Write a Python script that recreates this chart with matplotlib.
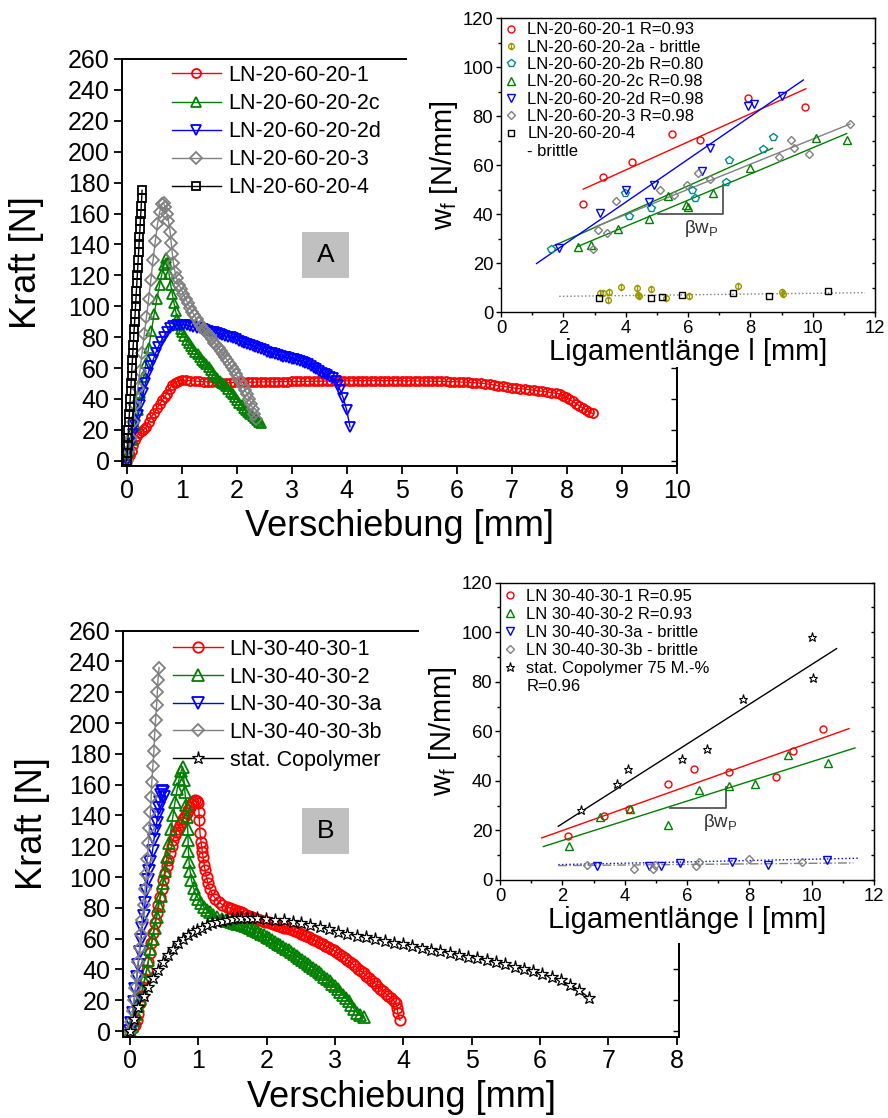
import numpy as np
import matplotlib
matplotlib.use('Agg')
import matplotlib.pyplot as plt
from matplotlib.patches import Rectangle
from matplotlib.path import Path
from matplotlib.lines import Line2D
from matplotlib.ticker import MultipleLocator

plt.rcParams['font.family'] = ['Liberation Sans', 'DejaVu Sans']
plt.rcParams['mathtext.fontset'] = 'custom'
plt.rcParams['mathtext.rm'] = 'Liberation Sans'
plt.rcParams['mathtext.it'] = 'Liberation Sans:italic'
plt.rcParams['mathtext.default'] = 'regular'

# ------------------------------------------------------------------ data
# Panel A: force-displacement curves (x = Verschiebung [mm], y = Kraft [N])
A_LABELS = ['LN-20-60-20-1', 'LN-20-60-20-2c', 'LN-20-60-20-2d', 'LN-20-60-20-3', 'LN-20-60-20-4']

A_1 = [(0, 0), (0.03, 2), (0.06, 4), (0.09, 6.5), (0.12, 10), (0.15, 13.5), (0.18, 16), (0.22, 18),
       (0.27, 19), (0.32, 20.5), (0.36, 22), (0.40, 25), (0.45, 28.5), (0.50, 31), (0.55, 34),
       (0.60, 36.5), (0.64, 39), (0.69, 41.5), (0.73, 43.5), (0.78, 46.5), (0.82, 48.8), (0.87, 50.5),
       (0.91, 51.2), (0.96, 51.8), (1.00, 52),
       (1.08, 52), (1.16, 51.8), (1.24, 51.6), (1.32, 51.3), (1.40, 51.1), (1.48, 51.0), (1.56, 50.8),
       (1.64, 50.7), (1.72, 50.6), (1.80, 50.6), (1.88, 50.6), (1.96, 50.7), (2.04, 50.7), (2.12, 50.8),
       (2.20, 50.8), (2.28, 50.9), (2.36, 50.9), (2.44, 51.0), (2.52, 51.0), (2.60, 51.0), (2.68, 51.1),
       (2.76, 51.1), (2.84, 51.2), (2.92, 51.2), (3.00, 51.3), (3.08, 51.3), (3.16, 51.3), (3.24, 51.4),
       (3.32, 51.4), (3.40, 51.5), (3.48, 51.5), (3.56, 51.5), (3.64, 51.6), (3.72, 51.6), (3.80, 51.6),
       (3.88, 51.7), (3.96, 51.7), (4.04, 51.7), (4.12, 51.7), (4.20, 51.8), (4.28, 51.8), (4.36, 51.8),
       (4.44, 51.8), (4.52, 51.8), (4.60, 51.8), (4.68, 51.8), (4.76, 51.8), (4.84, 51.8), (4.92, 51.8),
       (5.00, 51.7), (5.08, 51.7), (5.16, 51.7), (5.24, 51.6), (5.32, 51.6), (5.40, 51.6), (5.48, 51.5),
       (5.56, 51.5), (5.64, 51.4), (5.72, 51.4), (5.80, 51.3), (5.88, 51.2), (5.96, 51.1), (6.04, 51.0),
       (6.12, 50.9), (6.20, 50.8), (6.28, 50.6), (6.36, 50.4),
       (6.44, 50.2), (6.52, 49.9), (6.60, 49.5), (6.68, 49.0), (6.76, 48.5), (6.84, 48.1), (6.92, 47.7),
       (7.00, 47.3), (7.08, 46.9), (7.16, 46.6), (7.24, 46.3), (7.32, 46.0), (7.40, 45.7), (7.48, 45.3),
       (7.56, 44.9), (7.64, 44.5), (7.72, 44.1), (7.80, 43.7), (7.87, 43.2), (7.93, 42.2), (7.99, 41.0),
       (8.05, 39.7), (8.11, 38.4), (8.17, 37.0), (8.23, 35.6), (8.29, 34.3), (8.35, 33.0), (8.41, 31.8),
       (8.47, 30.6)]

A_2c = [(0, 0), (0.05, 6), (0.10, 14), (0.15, 23), (0.20, 33), (0.25, 44), (0.30, 54), (0.35, 63),
        (0.40, 73), (0.45, 84), (0.50, 95), (0.55, 105), (0.60, 114), (0.64, 121), (0.68, 127),
        (0.71, 131), (0.74, 128), (0.77, 121), (0.80, 114), (0.83, 108), (0.86, 102), (0.89, 97),
        (0.92, 92), (0.95, 88), (0.98, 85.5), (1.01, 83), (1.05, 80.5), (1.09, 78), (1.13, 76),
        (1.17, 74), (1.21, 72), (1.25, 70.5), (1.29, 69), (1.33, 67.3), (1.37, 65.5), (1.41, 64),
        (1.45, 62.3), (1.49, 60.6), (1.53, 58.5), (1.57, 56.6), (1.61, 55), (1.65, 53.3), (1.69, 51.6),
        (1.73, 50), (1.77, 49.5), (1.81, 48.2), (1.85, 46.5), (1.89, 44.8), (1.93, 43), (1.97, 41.3),
        (2.01, 39.5), (2.05, 37.6), (2.09, 36), (2.13, 34.4), (2.17, 32.8), (2.21, 31.3), (2.25, 30),
        (2.29, 28.7), (2.33, 27.5), (2.37, 26.3), (2.41, 25.2), (2.45, 24.2)]

A_2d = [(0, 0), (0.04, 5), (0.08, 11), (0.12, 17), (0.16, 23), (0.21, 29.6), (0.25, 36), (0.30, 43.6),
        (0.34, 50), (0.39, 56.6), (0.43, 61), (0.48, 65.2), (0.53, 70), (0.575, 73.8), (0.62, 77),
        (0.67, 80.3), (0.73, 83), (0.79, 85.7), (0.85, 87), (0.91, 87.8), (0.97, 88), (1.03, 88),
        (1.09, 87.8), (1.15, 87.3), (1.21, 86.7), (1.27, 86.2), (1.33, 85.7), (1.38, 85.2), (1.43, 84.6),
        (1.48, 84.1), (1.53, 83.6), (1.58, 83.1), (1.64, 82.5), (1.69, 82), (1.74, 81.4), (1.79, 80.9),
        (1.84, 80.3), (1.89, 79.8), (1.94, 79.2), (1.99, 78.5), (2.04, 77.8), (2.09, 77.1), (2.14, 76.4),
        (2.19, 75.6), (2.24, 74.9), (2.29, 74.2), (2.34, 73.5), (2.39, 72.8), (2.44, 72.1), (2.49, 71.4),
        (2.55, 70.6), (2.60, 70), (2.65, 69.5), (2.70, 68.9), (2.75, 68.4), (2.80, 67.8), (2.85, 67.3),
        (2.90, 66.9), (2.95, 66.5), (3.00, 66.1), (3.05, 65.6), (3.10, 65.2), (3.15, 64.7), (3.20, 64),
        (3.25, 63.2), (3.30, 62.4), (3.35, 61.4), (3.40, 60.3), (3.45, 59.2), (3.50, 58), (3.55, 57),
        (3.60, 56.1), (3.65, 55.2), (3.70, 54.4), (3.75, 53.3), (3.80, 51.5), (3.84, 48.8), (3.88, 45.8),
        (3.94, 40.4), (4.00, 32.8), (4.06, 22)]

A_3 = [(0, 0), (0.04, 7), (0.08, 15), (0.12, 25), (0.16, 36), (0.20, 47), (0.24, 58), (0.28, 70),
       (0.32, 82), (0.36, 93), (0.40, 105), (0.44, 117), (0.48, 130), (0.52, 142), (0.56, 153),
       (0.60, 161), (0.64, 166), (0.67, 167), (0.70, 164), (0.73, 160), (0.76, 155), (0.79, 148),
       (0.81, 141), (0.83, 134), (0.85, 128), (0.88, 122), (0.91, 118), (0.95, 114), (0.99, 111),
       (1.03, 108), (1.07, 105), (1.11, 102), (1.15, 99), (1.19, 96.5), (1.23, 94), (1.27, 91.5),
       (1.31, 89), (1.35, 87.5), (1.39, 85.5), (1.43, 84), (1.47, 82), (1.51, 80.5), (1.55, 78.5),
       (1.59, 76.5), (1.63, 75), (1.67, 73), (1.71, 71), (1.75, 69), (1.79, 67), (1.83, 65),
       (1.87, 62.5), (1.91, 60.5), (1.95, 58.5), (1.99, 56), (2.03, 53.5), (2.07, 51), (2.11, 48.5),
       (2.15, 46), (2.19, 43), (2.23, 40), (2.26, 37), (2.29, 33.5), (2.32, 30), (2.35, 27)]

A_4 = [(0, 0), (0.01, 5), (0.02, 10), (0.025, 15), (0.033, 20), (0.04, 25), (0.048, 30), (0.056, 35),
       (0.064, 40), (0.072, 45), (0.08, 50), (0.088, 55), (0.096, 60), (0.104, 65), (0.112, 70),
       (0.12, 75), (0.128, 80), (0.136, 85), (0.145, 90), (0.153, 95), (0.161, 100), (0.169, 105),
       (0.177, 110), (0.185, 115), (0.193, 120), (0.201, 125), (0.209, 130), (0.217, 135), (0.225, 140),
       (0.233, 145), (0.241, 150), (0.249, 155), (0.257, 160), (0.265, 165), (0.273, 170), (0.28, 175)]

# Panel B: force-displacement curves
B_LABELS = ['LN-30-40-30-1', 'LN-30-40-30-2', 'LN-30-40-30-3a', 'LN-30-40-30-3b', 'stat. Copolymer']

B_1 = [(0, 0), (0.04, 2), (0.07, 4), (0.10, 7), (0.12, 11), (0.146, 18), (0.17, 23), (0.195, 28.8),
       (0.22, 34), (0.244, 39.6), (0.27, 45), (0.29, 50.4), (0.315, 57), (0.34, 63.4), (0.365, 70),
       (0.39, 76.4), (0.415, 82), (0.44, 87.2), (0.465, 92.5), (0.49, 98), (0.515, 102.5), (0.54, 107),
       (0.56, 111), (0.585, 115.5), (0.61, 120), (0.63, 124), (0.655, 127), (0.68, 129.5), (0.705, 131.5),
       (0.73, 133.5), (0.755, 135.5), (0.78, 137.5), (0.805, 139.5), (0.83, 141.5), (0.855, 143.5),
       (0.88, 145.6), (0.90, 147.5), (0.925, 149), (0.95, 150), (0.98, 149.5), (1.0, 147.8), (1.01, 142),
       (1.015, 137), (1.025, 128.4), (1.04, 123), (1.05, 119.7), (1.06, 116), (1.07, 113), (1.085, 108),
       (1.10, 104.5), (1.12, 100), (1.14, 96), (1.17, 92), (1.21, 88.5), (1.25, 86), (1.30, 84),
       (1.35, 82), (1.42, 80.5), (1.46, 80), (1.50, 79.3), (1.54, 78.6), (1.58, 77.9), (1.62, 77.2),
       (1.66, 76.4), (1.70, 75.6), (1.74, 74.8), (1.78, 74), (1.82, 73.3), (1.86, 72.6), (1.90, 72),
       (1.94, 71.5), (1.98, 71), (2.02, 70.6), (2.06, 70.2), (2.10, 69.6), (2.14, 69), (2.18, 68.4),
       (2.22, 67.8), (2.26, 67.2), (2.30, 66.6), (2.34, 66), (2.38, 65.4), (2.42, 64.7), (2.46, 64),
       (2.50, 63.2), (2.54, 62.4), (2.58, 61.6), (2.62, 60.8), (2.66, 60), (2.70, 59.1), (2.74, 58.2),
       (2.78, 57.3), (2.82, 56.4), (2.86, 55.5), (2.90, 54.5), (2.94, 53.5), (2.98, 52.4), (3.02, 51.3),
       (3.06, 50.1), (3.10, 48.9), (3.14, 47.7), (3.18, 46.3), (3.22, 44.9), (3.26, 43.5), (3.30, 42),
       (3.34, 40.5), (3.38, 39), (3.42, 37.5), (3.46, 35.9), (3.50, 34.3), (3.54, 32.7), (3.58, 31),
       (3.62, 29.3), (3.66, 27.6), (3.70, 25.9), (3.74, 24.3), (3.78, 22.8), (3.82, 21.3), (3.86, 19.7),
       (3.89, 18), (3.91, 15), (3.92, 11.5), (3.95, 7.1)]

B_2 = [(0, 0), (0.03, 3), (0.06, 7), (0.09, 11), (0.12, 16), (0.15, 21), (0.18, 27), (0.21, 33),
       (0.24, 39), (0.27, 46), (0.30, 53), (0.33, 60), (0.36, 67), (0.39, 74), (0.42, 81), (0.45, 88),
       (0.48, 96), (0.51, 104), (0.54, 113), (0.57, 122), (0.60, 131), (0.63, 140), (0.66, 149),
       (0.69, 157), (0.72, 164), (0.75, 169), (0.77, 171.5), (0.79, 163), (0.805, 155), (0.82, 147),
       (0.835, 139), (0.845, 131), (0.85, 124), (0.855, 117), (0.865, 110), (0.88, 104), (0.90, 98),
       (0.93, 93), (0.96, 89), (1.00, 86), (1.04, 83), (1.08, 80.5), (1.12, 78.5), (1.17, 77),
       (1.22, 75.5), (1.28, 74), (1.34, 73), (1.40, 72), (1.44, 71.5), (1.48, 71), (1.52, 70.4),
       (1.56, 69.8), (1.60, 69.2), (1.64, 68.6), (1.68, 68), (1.72, 67.3), (1.76, 66.7), (1.80, 65.8),
       (1.84, 64.9), (1.88, 64), (1.92, 63), (1.96, 62.1), (2.00, 61.2), (2.04, 60.1), (2.08, 59),
       (2.12, 57.9), (2.16, 56.8), (2.20, 55.8), (2.24, 54.7), (2.28, 53.5), (2.32, 52.3), (2.36, 51.1),
       (2.40, 49.9), (2.44, 48.6), (2.48, 47.4), (2.52, 46.2), (2.56, 45), (2.60, 43.7), (2.64, 42.4),
       (2.68, 41.1), (2.72, 39.8), (2.76, 38.4), (2.80, 36.9), (2.84, 35.4), (2.88, 33.8), (2.92, 32.2),
       (2.96, 30.6), (3.00, 29), (3.04, 27.3), (3.08, 25.5), (3.12, 23.6), (3.16, 21.6), (3.20, 19.2),
       (3.24, 16.8), (3.28, 14.3), (3.32, 12), (3.37, 10.2), (3.42, 9.3)]

B_3a = [(0, 0), (0.02, 5), (0.04, 12), (0.06, 19), (0.08, 27), (0.10, 35), (0.12, 43), (0.14, 51),
        (0.16, 59), (0.18, 67), (0.20, 75), (0.22, 83), (0.24, 91), (0.26, 98), (0.28, 104), (0.30, 110),
        (0.33, 117), (0.35, 124), (0.37, 130), (0.39, 135), (0.41, 140), (0.43, 145), (0.44, 149),
        (0.45, 153), (0.47, 156), (0.49, 155), (0.50, 152)]

B_3b = [(0, 0), (0.02, 6), (0.04, 13), (0.06, 20), (0.08, 28), (0.10, 36), (0.12, 45), (0.14, 54),
        (0.16, 63), (0.18, 72), (0.20, 82), (0.22, 92), (0.24, 102), (0.255, 112), (0.27, 122),
        (0.285, 132), (0.30, 142), (0.31, 152), (0.32, 162), (0.335, 172), (0.35, 182), (0.36, 192),
        (0.375, 202), (0.39, 212), (0.40, 220), (0.41, 228), (0.425, 236)]

B_COP = [(0, 0), (0.06, 8), (0.12, 15.8), (0.20, 23), (0.27, 28.8), (0.34, 34.5), (0.41, 39.6),
         (0.48, 45), (0.56, 49.4), (0.635, 53.5), (0.71, 57), (0.78, 60), (0.85, 62.3), (0.92, 64.3),
         (0.98, 65.6), (1.05, 67.2), (1.12, 68.8), (1.20, 70), (1.27, 71), (1.35, 71.6), (1.42, 72),
         (1.49, 72.6), (1.56, 73.2), (1.63, 73.4), (1.71, 73.6), (1.78, 73.5), (1.86, 73.2), (1.99, 72.8),
         (2.12, 72.4), (2.25, 71.8), (2.38, 71), (2.51, 70.2), (2.64, 68.8), (2.78, 67.4), (2.91, 66.2),
         (3.05, 64.5), (3.18, 63.3), (3.32, 62), (3.45, 60.8), (3.59, 59.6), (3.73, 58.4), (3.86, 57.3),
         (4.00, 56.2), (4.13, 55.1), (4.27, 54), (4.41, 52.9), (4.54, 51.8), (4.68, 50.6), (4.81, 49.5),
         (4.95, 48.3), (5.08, 47.1), (5.22, 45.8), (5.36, 44.5), (5.49, 43.2), (5.63, 41.8), (5.76, 40.3),
         (5.90, 38.7), (6.03, 37), (6.17, 35.1), (6.30, 32.9), (6.44, 30.1), (6.57, 26.6), (6.72, 21.5)]

# Inset A: w_f vs ligament length
IA_1_x = [2.64, 3.28, 4.19, 5.48, 6.39, 7.94, 9.75]
IA_1_y = [44.0, 55.2, 61.1, 72.7, 70.2, 87.5, 83.8]
IA_2a_x = [3.18, 3.28, 3.42, 3.48, 3.85, 4.35, 4.41, 4.44, 4.80, 5.28, 6.04, 7.61, 9.00, 9.06]
IA_2a_y = [7.8, 7.8, 5.0, 8.2, 10.2, 10.0, 6.8, 6.4, 9.5, 5.7, 6.4, 10.6, 8.2, 7.5]
IA_2b_x = [1.60, 3.97, 4.12, 4.80, 6.14, 6.22, 7.22, 7.30, 8.42, 8.72]
IA_2b_y = [25.9, 48.7, 39.1, 42.3, 49.8, 46.4, 53.2, 62.3, 66.8, 71.3]
IA_2c_x = [2.48, 2.88, 3.74, 4.76, 5.37, 5.94, 6.01, 6.79, 7.99, 10.11, 11.09]
IA_2c_y = [26.6, 27.5, 34.1, 38.2, 47.3, 43.9, 42.9, 48.7, 59.0, 70.9, 70.2]
IA_2d_x = [1.87, 3.18, 4.01, 4.76, 4.91, 6.44, 6.71, 7.94, 8.12, 9.00]
IA_2d_y = [26.2, 40.5, 50.0, 45.0, 51.8, 57.7, 67.1, 84.1, 84.8, 88.2]
IA_3_x = [2.96, 3.10, 3.41, 3.68, 5.10, 5.56, 5.96, 6.31, 6.71, 8.92, 9.30, 9.41, 9.89, 11.20]
IA_3_y = [25.9, 33.4, 32.4, 45.3, 49.8, 47.6, 51.8, 56.9, 54.3, 63.4, 70.2, 67.2, 64.5, 77.0]
IA_4_x = [3.14, 4.81, 5.16, 5.80, 7.45, 8.61, 10.50]
IA_4_y = [5.7, 5.7, 6.1, 6.8, 7.8, 6.4, 8.5]
IA_LABELS = ['LN-20-60-20-1 R=0.93', 'LN-20-60-20-2a - brittle', 'LN-20-60-20-2b R=0.80',
             'LN-20-60-20-2c R=0.98', 'LN-20-60-20-2d R=0.98', 'LN-20-60-20-3 R=0.98',
             'LN-20-60-20-4', '- brittle']
# fitted lines (x0, x1), (y0, y1)
IA_FIT_1 = ((2.64, 9.78), (50.2, 91.2))
IA_FIT_2b = ((1.68, 8.71), (27.0, 66.9))
IA_FIT_2c = ((2.43, 11.09), (26.6, 72.9))
IA_FIT_2d = ((1.14, 9.70), (19.8, 94.8))
IA_FIT_3 = ((3.02, 11.20), (34.8, 76.8))
IA_FIT_BR = ((1.87, 11.68), (6.4, 7.9))

# Inset B
IB_1_x = [2.17, 3.35, 4.15, 5.38, 6.22, 7.36, 8.84, 9.39, 10.37]
IB_1_y = [17.9, 25.7, 28.5, 38.6, 44.9, 43.5, 41.5, 52.0, 61.1]
IB_2_x = [2.22, 3.21, 4.17, 5.38, 6.40, 7.36, 8.18, 9.25, 10.53]
IB_2_y = [13.9, 25.3, 28.7, 22.0, 36.4, 37.9, 38.6, 50.3, 47.3]
IB_3a_x = [3.12, 4.79, 5.16, 5.78, 7.43, 8.61, 10.48]
IB_3a_y = [5.5, 5.5, 5.5, 6.7, 7.4, 6.2, 8.2]
IB_3b_x = [2.78, 4.31, 4.90, 4.97, 6.29, 6.40, 8.00, 9.68]
IB_3b_y = [6.2, 4.4, 4.4, 6.2, 5.8, 7.1, 8.5, 7.4]
IB_COP_x = [2.60, 3.74, 4.10, 5.83, 6.63, 7.79, 10.02, 10.03]
IB_COP_y = [28.3, 38.8, 44.9, 48.9, 52.7, 73.2, 97.9, 81.6]
IB_LABELS = ['LN 30-40-30-1 R=0.95', 'LN 30-40-30-2 R=0.93', 'LN 30-40-30-3a - brittle',
             'LN 30-40-30-3b - brittle', 'stat. Copolymer 75 M.-%', 'R=0.96']
IB_FIT_1 = ((1.34, 11.20), (17.0, 61.1))
IB_FIT_2 = ((1.39, 11.39), (13.5, 53.3))
IB_FIT_COP = ((1.87, 10.80), (21.7, 93.4))
IB_FIT_3a = ((1.87, 11.50), (6.2, 8.8))
IB_FIT_3b = ((1.87, 11.34), (5.8, 6.9))

# slope triangles (beta w_P)
BETA_A = ((5.05, 7.13, 7.13), (40.2, 40.2, 51.8))
BETA_B = ((5.45, 7.25, 7.25), (29.0, 29.0, 37.5))

# ------------------------------------------------------------------ figure
W, H = 888, 1118
fig = plt.figure(figsize=(W / 100, H / 100), dpi=100)


def fx(px):
    return px / W


def fy(py):
    return 1 - py / H


RED, GREEN, BLUE, GRAY, BLACK = '#ff0000', '#008000', '#0000ff', '#808080', '#000000'
OLIVE, TEAL = '#9a9a00', '#008b8b'

circ = Path.unit_circle()
PHI = Path(np.concatenate([circ.vertices, [[0, -1.35], [0, 1.35]]]),
           np.concatenate([circ.codes, [Path.MOVETO, Path.LINETO]]))


def style_main(ax):
    for s in ax.spines.values():
        s.set_linewidth(1.4)
    ax.tick_params(axis='both', which='major', direction='out', length=6, width=1.3,
                   labelsize=18, pad=3, top=False, right=False)
    ax.yaxis.set_major_locator(MultipleLocator(20))
    ax.xaxis.set_major_locator(MultipleLocator(1))
    sec = ax.secondary_yaxis('right')
    sec.yaxis.set_major_locator(MultipleLocator(20))
    sec.tick_params(direction='in', length=4, width=1.0, labelright=False)
    sec.spines['right'].set_linewidth(1.4)
    ax.set_xlabel('Verschiebung [mm]', fontsize=26, labelpad=5)
    ax.set_ylabel('Kraft [N]', fontsize=26)


def curve(ax, pts, **kw):
    x, y = zip(*pts)
    ax.plot(x, y, **kw)


# ---------------- main A
axA = fig.add_axes([fx(122), fy(466), fx(676.7) - fx(122), fy(59) - fy(466)])
axA.set_xlim(-0.085, 10.0)
axA.set_ylim(-3.4, 260)
style_main(axA)
axA.yaxis.set_label_coords(-0.14, 0.5)
mk = dict(mfc='none', mew=1.3, lw=1.0)
curve(axA, A_1, color=RED, marker='o', ms=6.5, label=A_LABELS[0], **mk)
curve(axA, A_2c, color=GREEN, marker='^', ms=7, label=A_LABELS[1], **mk)
curve(axA, A_2d, color=BLUE, marker='v', ms=7, label=A_LABELS[2], **mk)
curve(axA, A_3, color=GRAY, marker='D', ms=6.3, label=A_LABELS[3], **mk)
curve(axA, A_4, color=BLACK, marker='s', ms=6, label=A_LABELS[4], **mk)
axA.legend(loc='upper left', bbox_to_anchor=(fx(172), fy(65)), bbox_transform=fig.transFigure,
           frameon=False, borderpad=0, borderaxespad=0, handlelength=2.26, handletextpad=0.33,
           labelspacing=0.33, fontsize=15.5)

# ---------------- main B
axB = fig.add_axes([fx(123), fy(1036.7), fx(679) - fx(123), fy(630.7) - fy(1036.7)])
axB.set_xlim(-0.102, 8.034)
axB.set_ylim(-3.7, 260)
style_main(axB)
axB.yaxis.set_label_coords(-0.131, 0.524)
curve(axB, B_1, color=RED, marker='o', ms=7.5, label=B_LABELS[0], **mk)
curve(axB, B_2, color=GREEN, marker='^', ms=8, label=B_LABELS[1], **mk)
curve(axB, B_3a, color=BLUE, marker='v', ms=8, label=B_LABELS[2], **mk)
curve(axB, B_3b, color=GRAY, marker='D', ms=6.3, label=B_LABELS[3], **mk)
curve(axB, B_COP, color=BLACK, marker='*', ms=9.5, mfc='white', mew=0.9, lw=1.0, label=B_LABELS[4])
axB.legend(loc='upper left', bbox_to_anchor=(fx(173), fy(639)), bbox_transform=fig.transFigure,
           frameon=False, borderpad=0, borderaxespad=0, handlelength=2.3, handletextpad=0.33,
           labelspacing=0.31, fontsize=15.5)

# white cover behind the insets
fig.add_artist(Rectangle((fx(407), fy(367)), 1 - fx(407), fy(0) - fy(367), transform=fig.transFigure,
                         facecolor='white', edgecolor='none', zorder=1))
fig.add_artist(Rectangle((fx(419), fy(943)), 1 - fx(419), fy(555) - fy(943), transform=fig.transFigure,
                         facecolor='white', edgecolor='none', zorder=1))

# panel tags
for (x0, y0, y1, t) in [(302, 232, 278, 'A'), (302, 808, 854, 'B')]:
    fig.add_artist(Rectangle((fx(x0), fy(y1)), fx(47), fy(y0) - fy(y1), transform=fig.transFigure,
                             facecolor='#c0c0c0', edgecolor='none', zorder=3))
    fig.text(fx(x0 + 23.5), fy((y0 + y1) / 2), t, ha='center', va='center', fontsize=19, zorder=4)


def style_inset(ax):
    ax.set_xlim(0, 12)
    ax.set_ylim(0, 120)
    for s in ax.spines.values():
        s.set_linewidth(1.0)
    ax.xaxis.set_major_locator(MultipleLocator(2))
    ax.xaxis.set_minor_locator(MultipleLocator(1))
    ax.yaxis.set_major_locator(MultipleLocator(20))
    ax.yaxis.set_minor_locator(MultipleLocator(10))
    ax.tick_params(which='major', direction='out', length=3.5, width=1.0, labelsize=13.3, pad=2,
                   top=False, right=False)
    ax.tick_params(which='minor', direction='out', length=2.5, width=1.0, top=False, right=False)
    sec = ax.secondary_yaxis('right')
    sec.yaxis.set_major_locator(MultipleLocator(20))
    sec.yaxis.set_minor_locator(MultipleLocator(10))
    sec.tick_params(which='both', direction='in', length=2.5, width=1.0, labelright=False)
    ax.set_xlabel('Ligamentlänge l [mm]', fontsize=21, labelpad=1)
    ax.set_ylabel('w$_\\mathregular{f}$ [N/mm]', fontsize=21)
    ax.yaxis.set_label_coords(-0.11, 0.5)


def fit(ax, f, **kw):
    ax.plot(f[0], f[1], **kw)


im = dict(ls='none', mfc='none', mew=1.0)

# ---------------- inset A
iA = fig.add_axes([fx(501), fy(312), fx(875) - fx(501), fy(18.3) - fy(312)], zorder=2)
style_inset(iA)
fit(iA, IA_FIT_1, color=RED, lw=1.0)
fit(iA, IA_FIT_2b, color=GREEN, lw=1.0)
fit(iA, IA_FIT_2c, color=GREEN, lw=1.0)
fit(iA, IA_FIT_2d, color=BLUE, lw=1.0)
fit(iA, IA_FIT_3, color=GRAY, lw=1.0)
fit(iA, IA_FIT_BR, color=GRAY, lw=1.0, ls=':')
iA.plot(BETA_A[0], BETA_A[1], color='#555555', lw=1.3)
iA.text(6.44, 34.1, 'βw$_\\mathregular{P}$', ha='center', va='center', fontsize=13.5, color='#333333')
hA = []
hA += iA.plot(IA_1_x, IA_1_y, marker='o', ms=5, color=RED, **im)
hA += iA.plot(IA_2a_x, IA_2a_y, marker=PHI, ms=5.5, color=OLIVE, **im)
hA += iA.plot(IA_2b_x, IA_2b_y, marker='p', ms=5.5, color=TEAL, **im)
hA += iA.plot(IA_2c_x, IA_2c_y, marker='^', ms=5.5, color=GREEN, **im)
hA += iA.plot(IA_2d_x, IA_2d_y, marker='v', ms=5.5, color=BLUE, **im)
hA += iA.plot(IA_3_x, IA_3_y, marker='D', ms=4.5, color=GRAY, **im)
hA += iA.plot(IA_4_x, IA_4_y, marker='s', ms=4.5, color=BLACK, **im)
hA.append(Line2D([], [], ls='none', marker='none'))
iA.legend(hA, IA_LABELS, loc='upper left', bbox_to_anchor=(fx(505), fy(22.5)),
          bbox_transform=fig.transFigure, frameon=False, borderpad=0, borderaxespad=0,
          handlelength=0.72, handletextpad=0.62, labelspacing=0.14, fontsize=12)

# ---------------- inset B
iB = fig.add_axes([fx(500), fy(880), fx(874) - fx(500), fy(582.7) - fy(880)], zorder=2)
style_inset(iB)
fit(iB, IB_FIT_1, color=RED, lw=1.0)
fit(iB, IB_FIT_2, color=GREEN, lw=1.0)
fit(iB, IB_FIT_COP, color=BLACK, lw=1.0)
fit(iB, IB_FIT_3a, color=BLUE, lw=1.0, ls=':')
fit(iB, IB_FIT_3b, color=GRAY, lw=1.0, ls='-.')
iB.plot(BETA_B[0], BETA_B[1], color='#555555', lw=1.3)
iB.text(7.06, 23.3, 'βw$_\\mathregular{P}$', ha='center', va='center', fontsize=13.5, color='#333333')
hB = []
hB += iB.plot(IB_1_x, IB_1_y, marker='o', ms=5, color=RED, **im)
hB += iB.plot(IB_2_x, IB_2_y, marker='^', ms=5.5, color=GREEN, **im)
hB += iB.plot(IB_3a_x, IB_3a_y, marker='v', ms=5.5, color=BLUE, **im)
hB += iB.plot(IB_3b_x, IB_3b_y, marker='D', ms=4.5, color=GRAY, **im)
hB += iB.plot(IB_COP_x, IB_COP_y, marker='*', ms=6.5, color=BLACK, ls='none', mfc='white', mew=0.8)
hB.append(Line2D([], [], ls='none', marker='none'))
iB.legend(hB, IB_LABELS, loc='upper left', bbox_to_anchor=(fx(504), fy(589)),
          bbox_transform=fig.transFigure, frameon=False, borderpad=0, borderaxespad=0,
          handlelength=0.72, handletextpad=0.62, labelspacing=0.18, fontsize=12)

fig.savefig('out.png', dpi=100)
